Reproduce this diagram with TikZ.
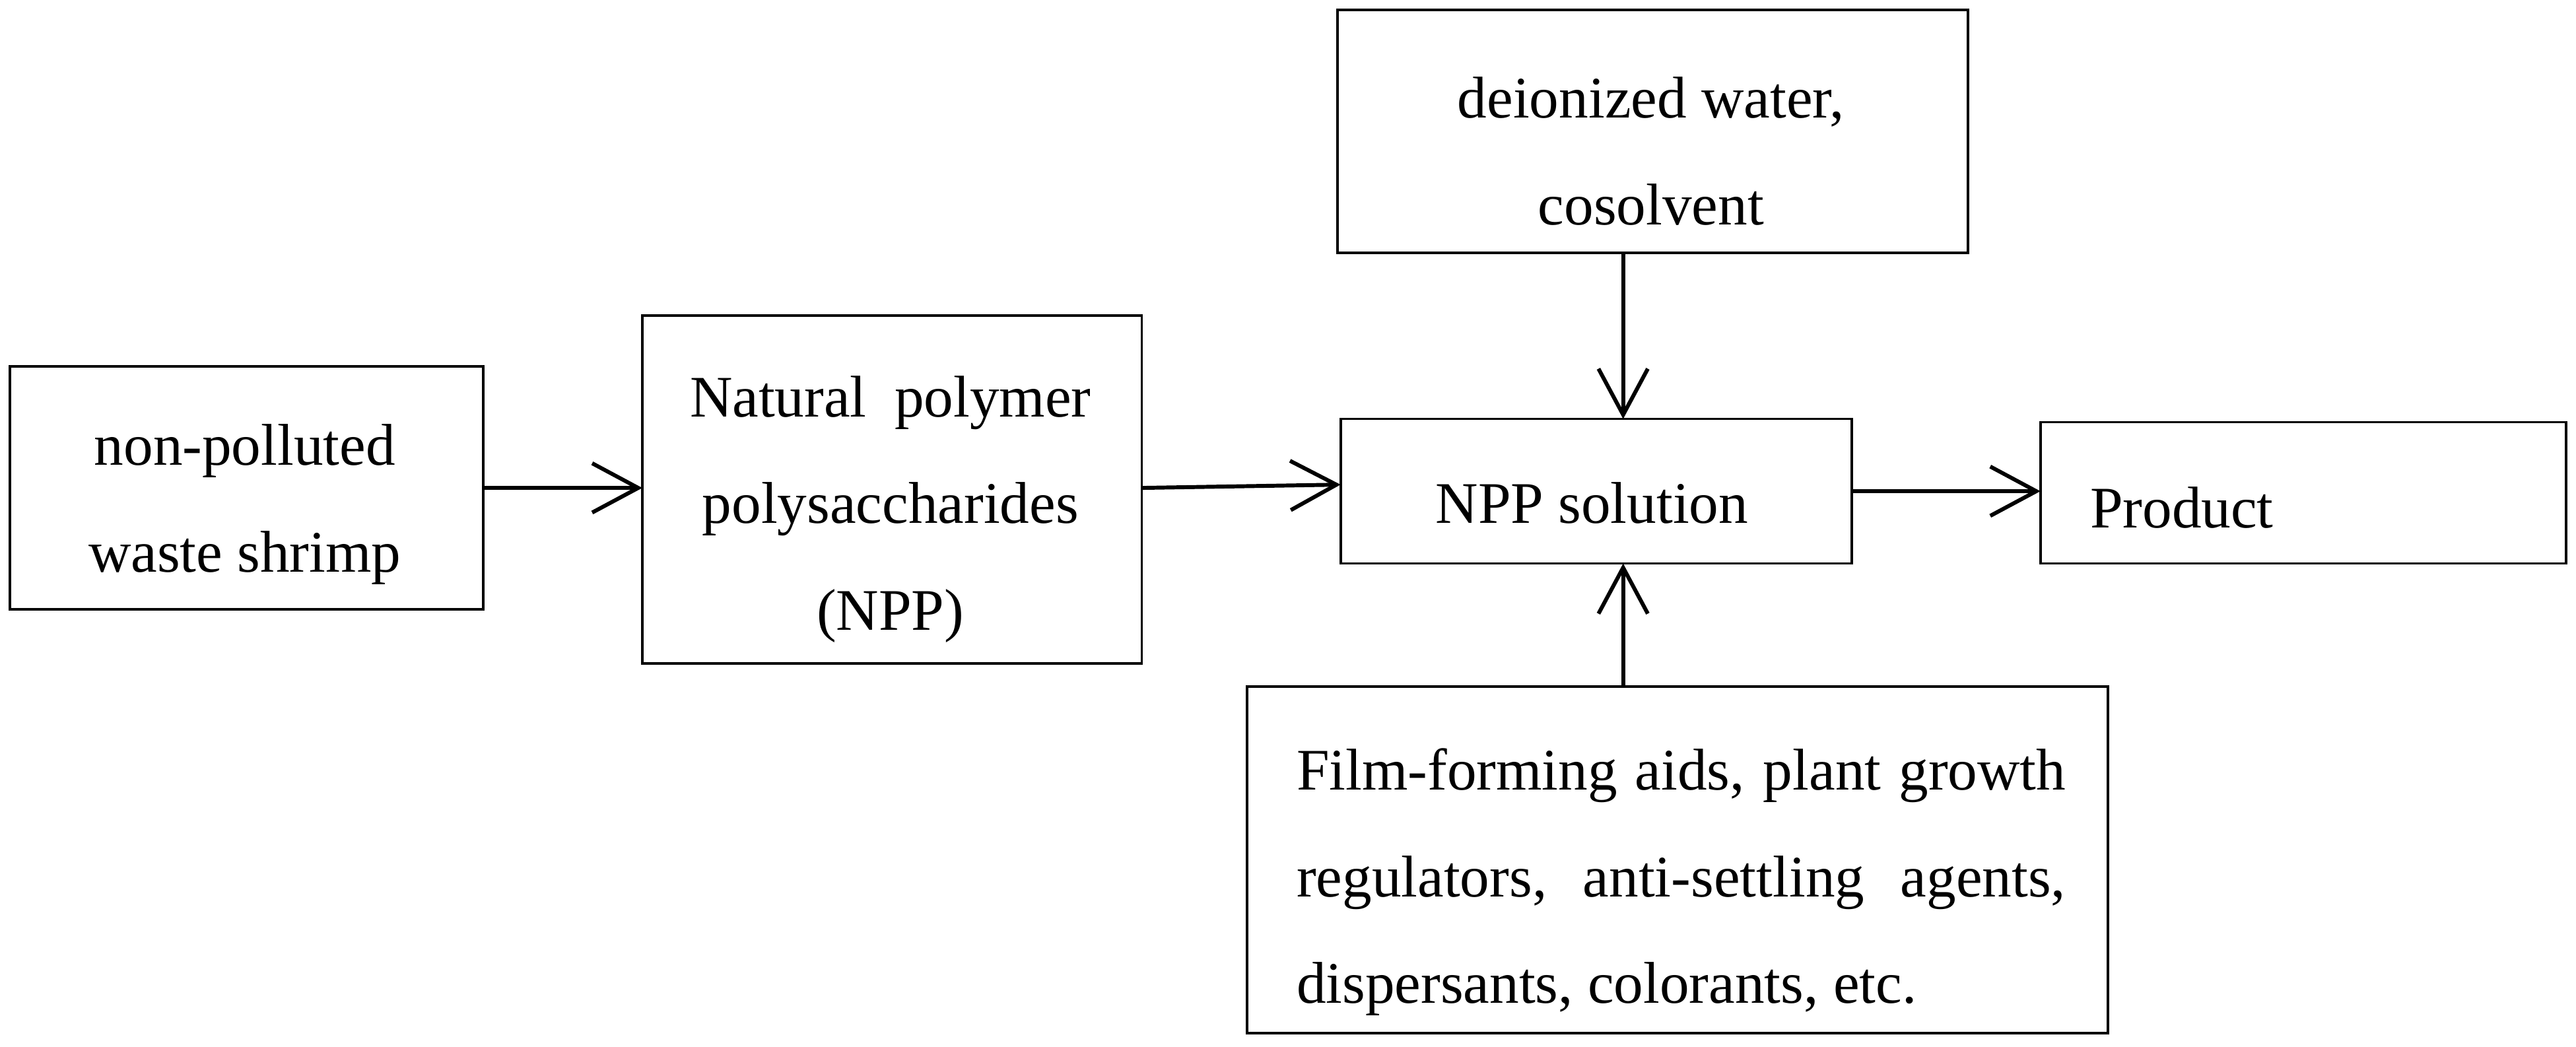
\documentclass[tikz,border=0pt]{standalone}
\usepackage{fontspec}
\setmainfont{Liberation Serif}
\usetikzlibrary{arrows.meta}
\begin{document}
\begin{tikzpicture}[x=0.025cm,y=-0.025cm,
  box/.style={draw,line width=1.1pt},
  txt/.style={font=\fontsize{25.5}{46.2}\selectfont,align=center,inner sep=0pt},
  arr/.style={line width=1.7pt,-{Straight Barb[length=7mm,width=7.5mm,line width=1.7pt]}}]
\useasboundingbox (0,0) rectangle (1568,637);
\draw[box] (6,223) rectangle (294,371); \coordinate (Ar) at (294,297);
\node[txt] (A) at (149,307) {non-polluted\\waste shrimp};
\draw[box] (391,192) rectangle (695,404);
\coordinate (Bl) at (391,297); \coordinate (Br) at (695,297);
\node[txt] (B) at (542,310) {\makebox[6.1cm][s]{Natural polymer}\\polysaccharides\\(NPP)};
\draw[box] (814,6) rectangle (1198,154); \coordinate (Cb) at (988,154);
\node[txt] (C) at (1005,92) {deionized water,\\cosolvent};
\draw[box] (816,255) rectangle (1127,343);
\coordinate (Dl) at (816,295); \coordinate (Dr) at (1127,299);
\coordinate (Dt) at (988,255); \coordinate (Db) at (988,343);
\node[txt] (D) at (969,306) {NPP solution};
\draw[box] (1242,257) rectangle (1562,343); \coordinate (El) at (1242,299);
\node[txt,anchor=west] (E) at (1272,309) {Product};
\draw[box] (759,418) rectangle (1283,629); \coordinate (Ft) at (988,418);
\node[txt,align=left,anchor=west] (F) at (789,537) {\makebox[11.7cm][s]{Film-forming aids, plant growth}\\\makebox[11.7cm][s]{regulators,\ \ anti-settling\ \ agents,}\\dispersants, colorants, etc.};
\draw[arr] (Ar) -- (Bl);
\draw[arr] (Br) -- (Dl);
\draw[arr] (Dr) -- (El);
\draw[arr] (Cb) -- (Dt);
\draw[arr] (Ft) -- (Db);
\end{tikzpicture}
\end{document}
